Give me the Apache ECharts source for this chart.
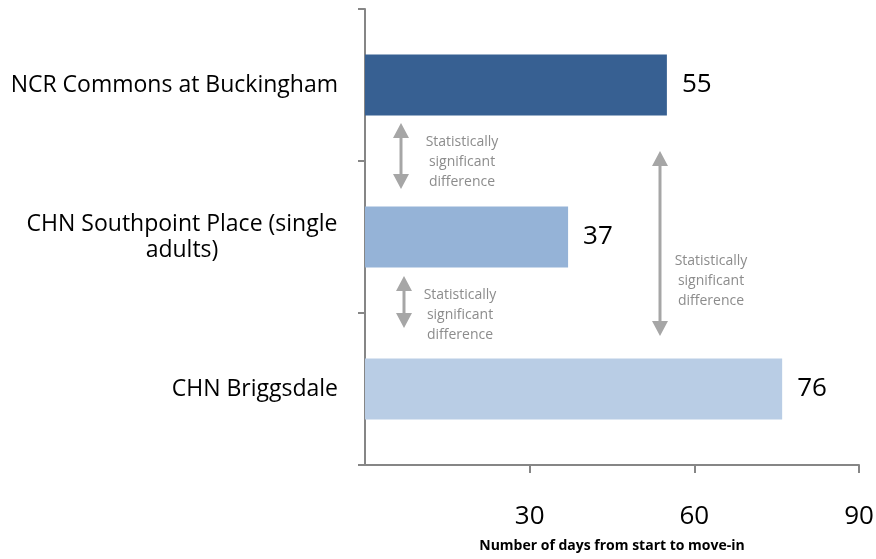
<!DOCTYPE html>
<html>
<head>
<meta charset="utf-8">
<script src="https://cdn.jsdelivr.net/npm/echarts@6/dist/echarts.min.js"></script>
<style>
  html, body { margin: 0; padding: 0; background: #fff; }
  #chart { width: 876px; height: 559px; }
</style>
</head>
<body>
<div id="chart"></div>
<script>
// categories top to bottom
var categories = ['NCR Commons at Buckingham', 'CHN Southpoint Place (single\nadults)', 'CHN Briggsdale'];
var days = [55, 37, 76];
var barColors = ['#376092', '#95b3d7', '#b9cde5'];
var xTicks = [0, 30, 60, 90];

var noteText = 'Statistically\nsignificant\ndifference';
var grey = '#a6a6a6';

var chart = echarts.init(document.getElementById('chart'));

function arrow(x, y1, y2) {
    return [
        { type: 'line', shape: { x1: x, y1: y1 + 10, x2: x, y2: y2 - 10 }, style: { stroke: grey, lineWidth: 3 } },
        { type: 'polygon', shape: { points: [[x, y1], [x - 8, y1 + 15], [x + 8, y1 + 15]] }, style: { fill: grey } },
        { type: 'polygon', shape: { points: [[x, y2], [x - 8, y2 - 15], [x + 8, y2 - 15]] }, style: { fill: grey } }
    ];
}
function note(x, y) {
    return {
        type: 'text', x: x, y: y,
        style: { text: noteText, fill: '#8c8c8c', font: '14px "Open Sans"', align: 'center', verticalAlign: 'middle', lineHeight: 20 }
    };
}

chart.setOption({
    animation: false,
    grid: { left: 365, right: 17, top: 9, bottom: 94, outerBoundsMode: 'none' },
    xAxis: {
        type: 'value',
        min: xTicks[0],
        max: xTicks[xTicks.length - 1],
        interval: 30,
        splitLine: { show: false },
        axisLine: { show: true, lineStyle: { color: '#868686', width: 2 } },
        axisTick: { show: true, length: 8, lineStyle: { color: '#868686', width: 2 } },
        axisLabel: {
            margin: 39, fontSize: 26, color: '#000', fontFamily: 'Open Sans',
            showMinLabel: false
        },
        name: 'Number of days from start to move-in',
        nameLocation: 'middle',
        nameGap: 74,
        nameTextStyle: { fontSize: 14, fontWeight: 'bold', color: '#000', fontFamily: 'Open Sans' }
    },
    yAxis: {
        type: 'category',
        inverse: true,
        data: categories,
        axisLine: { show: true, lineStyle: { color: '#868686', width: 2 } },
        axisTick: { show: true, length: 7, lineStyle: { color: '#868686', width: 2 } },
        axisLabel: {
            margin: 27, fontSize: 23, color: '#000', fontFamily: 'Open Sans', lineHeight: 26,
            formatter: function (v) {
                if (v.indexOf('\n') < 0) return v;
                return v.split('\n').map(function (s) { return '{c|' + s + '}'; }).join('\n');
            },
            rich: {
                c: { width: 312, align: 'center', fontSize: 23, fontFamily: 'Open Sans', color: '#000', lineHeight: 26 }
            }
        }
    },
    series: [{
        type: 'bar',
        barWidth: '40%',
        data: days.map(function (v, i) {
            return { value: v, itemStyle: { color: barColors[i] } };
        }),
        label: { show: true, position: 'right', distance: 15, fontSize: 26, color: '#000', fontFamily: 'Open Sans' }
    }],
    graphic: [].concat(
        arrow(401, 123, 189),
        arrow(404, 276, 328),
        arrow(660, 151, 336),
        [note(462, 162), note(460, 315), note(711, 281)]
    )
});
</script>
</body>
</html>
